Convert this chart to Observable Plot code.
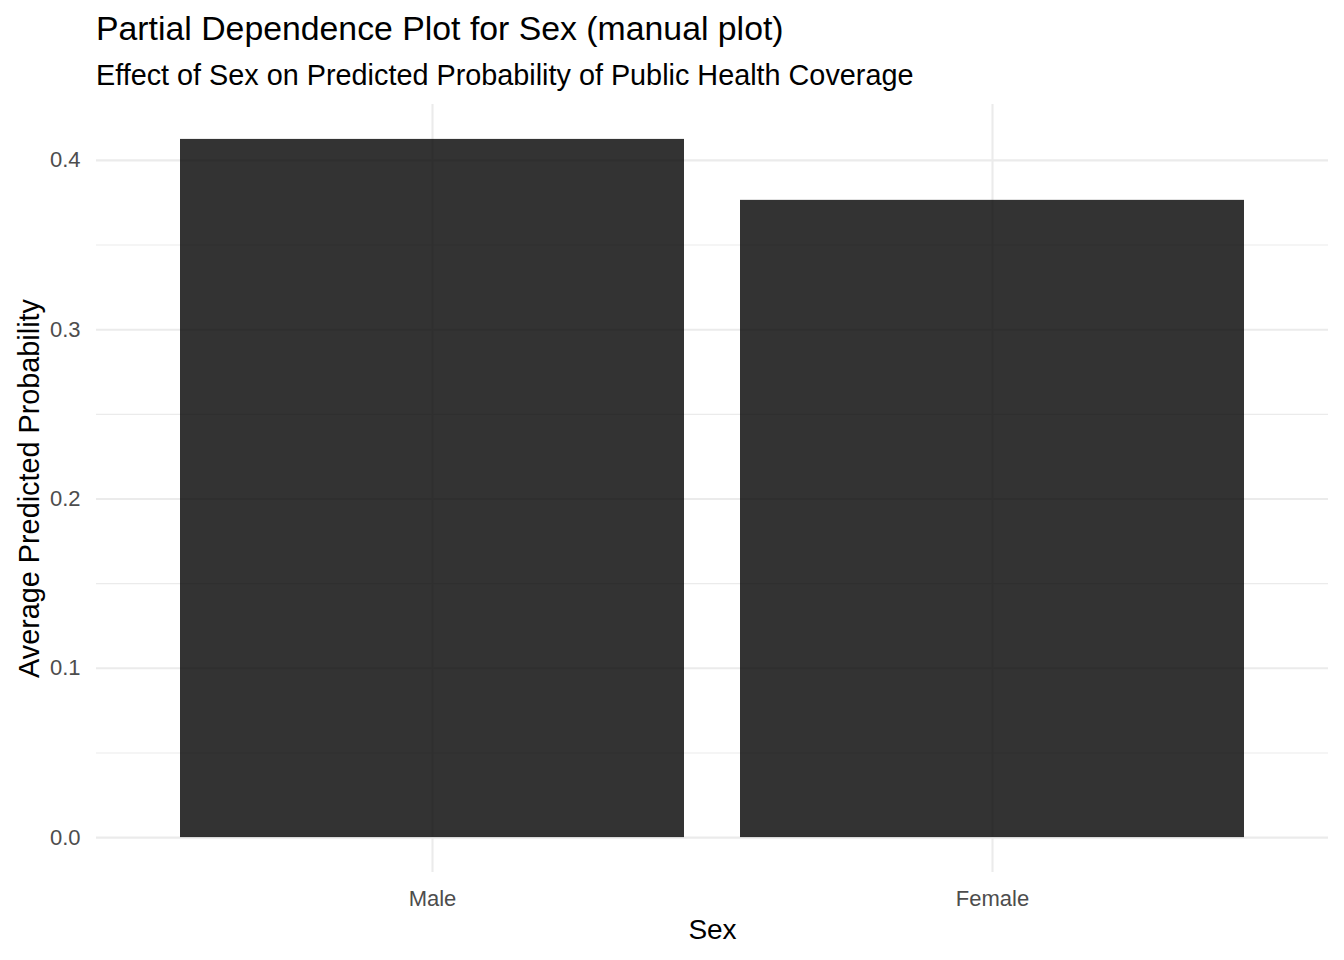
<!DOCTYPE html>
<html>
<head>
<meta charset="utf-8">
<script src="https://cdn.jsdelivr.net/npm/d3@7"></script>
<script src="https://cdn.jsdelivr.net/npm/@observablehq/plot@0.6"></script>
<style>
  html, body { margin: 0; padding: 0; background: #fff; }
  #wrap { position: relative; width: 1344px; height: 960px; font-family: "Liberation Sans", Arial, sans-serif; }
  .title { position: absolute; left: 96px; top: 12.4px; font-size: 33.8px; line-height: 1; color: #000; white-space: nowrap; }
  .subtitle { position: absolute; left: 96px; top: 60.6px; font-size: 28.8px; line-height: 1; color: #000; white-space: nowrap; }
  #chart { position: absolute; left: 0; top: 96px; }
</style>
</head>
<body>
<div id="wrap">
  <div class="title">Partial Dependence Plot for Sex (manual plot)</div>
  <div class="subtitle">Effect of Sex on Predicted Probability of Public Health Coverage</div>
  <div id="chart"></div>
</div>
<script>
const categories = ["Male", "Female"];
const probs = [0.4124, 0.3764];
const majorTicks = [0, 0.1, 0.2, 0.3, 0.4];
const tickLabels = ["0.0", "0.1", "0.2", "0.3", "0.4"];
const minorTicks = [0.05, 0.15, 0.25, 0.35];
const xTitle = "Sex";
const yTitle = "Average Predicted Probability";

const data = categories.map((c, i) => ({sex: c, prob: probs[i]}));
const maxV = d3.max(probs);
const yDomain = [-0.05 * maxV, 1.05 * maxV];

const plot = Plot.plot({
  width: 1344,
  height: 864,
  marginTop: 8,
  marginBottom: 88,
  marginLeft: 96,
  marginRight: 16,
  style: {fontFamily: "'Liberation Sans', Arial, sans-serif", background: "#fff", overflow: "visible"},
  x: {domain: categories, paddingInner: 0.1, paddingOuter: 0.15, align: 0.5},
  y: {domain: yDomain},
  marks: [
    Plot.ruleY(minorTicks, {y: d => d, stroke: "#ebebeb", strokeWidth: 1.1}),
    Plot.ruleY(majorTicks, {y: d => d, stroke: "#ebebeb", strokeWidth: 2.1}),
    Plot.gridX({stroke: "#ebebeb", strokeOpacity: 1, strokeWidth: 2.1}),
    Plot.barY(data, {x: "sex", y: "prob", fill: "#000", fillOpacity: 0.8}),
    Plot.axisY({ticks: majorTicks, tickSize: 0, tickPadding: 16, fontSize: 22, fill: "#4d4d4d",
      tickFormat: d => tickLabels[majorTicks.indexOf(d)], label: null}),
    Plot.axisX({tickSize: 0, tickPadding: 18, fontSize: 22, fill: "#4d4d4d", label: null}),
    Plot.text([xTitle], {frameAnchor: "bottom", text: d => d, dy: 57.5, lineAnchor: "middle", fontSize: 28, fill: "#000"}),
    Plot.text([yTitle], {frameAnchor: "left", text: d => d, dx: -66.5, rotate: -90, lineAnchor: "middle", textAnchor: "middle", fontSize: 28.8, fill: "#000"})
  ]
});
document.getElementById("chart").appendChild(plot);
</script>
</body>
</html>
